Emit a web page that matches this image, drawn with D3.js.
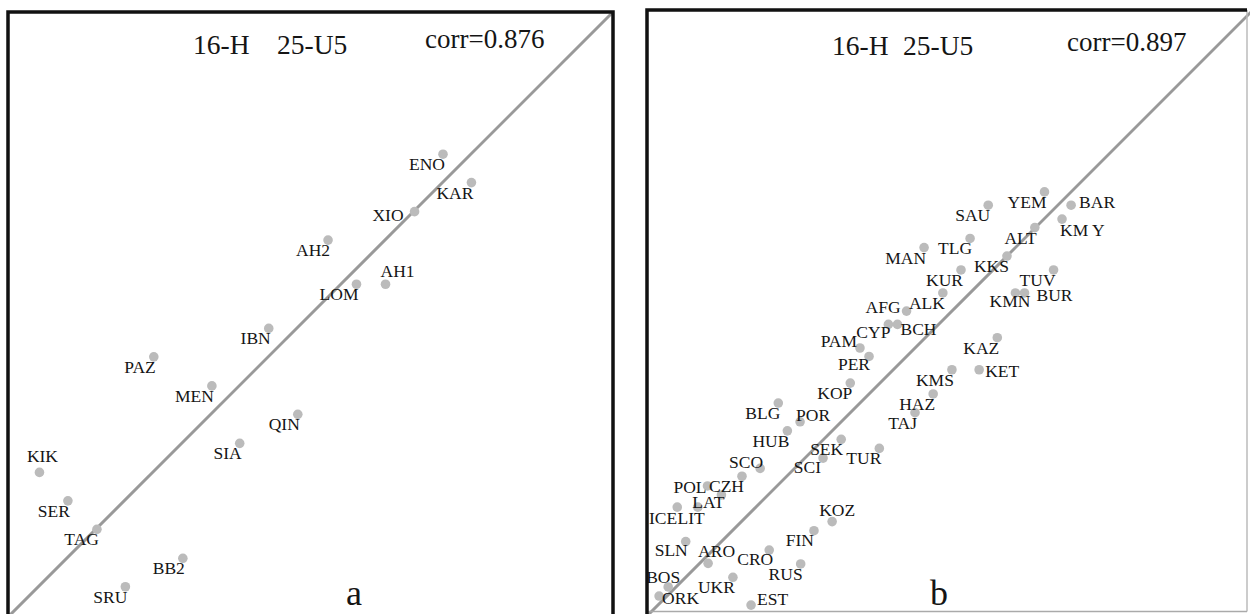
<!DOCTYPE html>
<html>
<head>
<meta charset="utf-8">
<script src="https://cdn.jsdelivr.net/npm/d3@7"></script>
<style>
  html, body { margin: 0; padding: 0; background: #fff; }
  svg text { font-family: "Liberation Serif", "Times New Roman", "DejaVu Serif", serif; fill: #151515; }
</style>
</head>
<body>
<div id="chart"></div>
<script>
// values (both axes 0..100, diagonal y = x)
const namesA = ["ENO", "KAR", "XIO", "AH2", "LOM", "AH1", "IBN", "PAZ", "MEN", "QIN",
  "SIA", "KIK", "SER", "TAG", "BB2", "SRU"];
const xA = [71.9, 76.6, 67.2, 52.9, 57.6, 62.4, 43.1, 24.1, 33.7, 47.9,
  38.3, 5.2, 9.9, 14.7, 28.9, 19.4];
const yA = [76.5, 71.8, 67.0, 62.3, 55.0, 55.0, 47.7, 43.0, 38.2, 33.5,
  28.7, 23.9, 19.2, 14.5, 9.7, 5.0];

const namesB = ["SAU", "YEM", "BAR", "KM Y", "ALT", "MAN", "TLG", "KKS", "KUR", "TUV",
  "KMN", "BUR", "ALK", "AFG", "CYP", "BCH", "PAM", "PER", "KAZ", "KET",
  "KMS", "KOP", "HAZ", "TAJ", "BLG", "POR", "HUB", "SEK", "SCI", "TUR",
  "SCO", "CZH", "POL", "LAT", "ICE", "LIT", "SLN", "ARO", "CRO", "RUS",
  "FIN", "KOZ", "BOS", "ORK", "UKR", "EST"];
const xB = [56.4, 65.7, 70.1, 68.6, 64.1, 45.8, 53.4, 59.5, 51.9, 67.2,
  60.9, 62.4, 48.9, 42.9, 39.9, 41.4, 35.2, 36.7, 57.9, 54.9,
  50.4, 33.6, 47.3, 44.3, 21.7, 25.3, 23.2, 32.1, 29.1, 38.4,
  18.7, 15.7, 10.0, 12.3, 5.0, 8.4, 6.4, 10.1, 20.2, 25.4,
  27.6, 30.6, 3.5, 2.0, 14.2, 17.2];
const yB = [67.9, 70.1, 67.9, 65.6, 64.2, 60.9, 62.4, 59.5, 57.2, 57.2,
  53.4, 53.4, 53.4, 50.4, 48.2, 48.2, 44.3, 42.9, 46.0, 40.7,
  40.7, 38.5, 36.7, 33.6, 35.2, 32.1, 30.6, 29.2, 26.1, 27.7,
  24.4, 23.1, 21.5, 20.0, 18.0, 18.0, 12.3, 8.7, 10.9, 8.6,
  14.1, 15.6, 4.8, 3.3, 6.4, 1.8];

const titleParts = ["16-H", "25-U5"];
const corrValues = [0.876, 0.897];
const panelLetters = ["a", "b"];

// label placement: [text-anchor, dx, dy] relative to the dot
const defaultPlace = ["end", 2, 16];
const placeA = {
  XIO: ["end", -11, 9],
  AH1: ["start", -5, -7],
  KIK: ["middle", 3, -10]
};
const placeB = {
  BAR: ["start", 8, 3],
  "KM Y": ["start", -2, 17],
  KMN: ["end", 15, 14],
  BUR: ["start", 12, 8],
  AFG: ["end", -6, 2],
  CYP: ["end", 2, 14],
  BCH: ["start", 3, 11],
  PAM: ["end", -3, -1],
  PER: ["end", 1, 14],
  KET: ["start", 6, 7],
  POR: ["start", -4, -1],
  SCO: ["end", 3, 0],
  POL: ["end", -1, 7],
  LAT: ["end", 3, 13],
  ICE: ["end", 0, 17],
  LIT: ["end", 7, 17],
  SLN: ["end", 2, 14],
  ARO: ["start", -10, -6],
  CRO: ["end", 4, 15],
  FIN: ["end", 0, 15],
  KOZ: ["middle", 5, -6],
  BOS: ["end", 12, -4],
  ORK: ["start", 3, 8],
  EST: ["start", 6, 0],
  SCI: ["end", -2, 15]
};

const width = 1250;
const height = 614;
const serif = "'Liberation Serif', 'Times New Roman', 'DejaVu Serif', serif";

const svg = d3.select("#chart")
  .append("svg")
  .attr("width", width)
  .attr("height", height)
  .attr("font-family", serif);

const panels = [
  { names: namesA, xs: xA, ys: yA, place: placeA,
    xr: [8, 613], yr: [617, 12],
    title: [193, 277, 54], corr: [425, 48], letter: [346, 605] },
  { names: namesB, xs: xB, ys: yB, place: placeB,
    xr: [647, 1252], yr: [616, 11],
    title: [832, 903, 55], corr: [1067, 51], letter: [930, 605] }
];

panels.forEach((p, i) => {
  const x = d3.scaleLinear().domain([0, 100]).range(p.xr);
  const y = d3.scaleLinear().domain([0, 100]).range(p.yr);
  const g = svg.append("g");

  const data = p.names.map((n, k) => ({ name: n, x: p.xs[k], y: p.ys[k] }));

  // diagonal
  g.append("line")
    .attr("x1", x(0)).attr("y1", y(0))
    .attr("x2", x(100)).attr("y2", y(100))
    .attr("stroke", "#999")
    .attr("stroke-width", 3);

  g.selectAll("circle")
    .data(data)
    .join("circle")
    .attr("cx", (d) => x(d.x))
    .attr("cy", (d) => y(d.y))
    .attr("r", 4.8)
    .attr("fill", "#bbb");

  g.selectAll("text.lab")
    .data(data)
    .join("text")
    .attr("class", "lab")
    .attr("x", (d) => x(d.x) + (p.place[d.name] || defaultPlace)[1])
    .attr("y", (d) => y(d.y) + (p.place[d.name] || defaultPlace)[2])
    .attr("text-anchor", (d) => (p.place[d.name] || defaultPlace)[0])
    .attr("font-family", serif)
    .style("font-size", "17.5px")
    .style("white-space", "pre")
    .text((d) => d.name);

  // headings
  g.append("text")
    .attr("x", p.title[0]).attr("y", p.title[2])
    .attr("font-family", serif)
    .style("font-size", "27.5px")
    .text(titleParts[0]);
  g.append("text")
    .attr("x", p.title[1]).attr("y", p.title[2])
    .attr("font-family", serif)
    .style("font-size", "27.5px")
    .text(titleParts[1]);
  g.append("text")
    .attr("x", p.corr[0]).attr("y", p.corr[1])
    .attr("font-family", serif)
    .style("font-size", "27px")
    .text(`corr=${corrValues[i]}`);
  g.append("text")
    .attr("x", p.letter[0]).attr("y", p.letter[1])
    .attr("font-family", serif)
    .style("font-size", "36px")
    .text(panelLetters[i]);
});

// frames
svg.append("rect")
  .attr("x", 8).attr("y", 12)
  .attr("width", 605).attr("height", 605)
  .attr("fill", "none")
  .attr("stroke", "#111")
  .attr("stroke-width", 3.5);

svg.append("line")
  .attr("x1", 1247).attr("y1", 10).attr("x2", 1247).attr("y2", 611.5)
  .attr("stroke", "#bbb").attr("stroke-width", 1.5);
svg.append("line")
  .attr("x1", 647).attr("y1", 611.5).attr("x2", 1247).attr("y2", 611.5)
  .attr("stroke", "#aaa").attr("stroke-width", 1.5);
svg.append("path")
  .attr("d", "M647,614 L647,10 L1247,10")
  .attr("fill", "none")
  .attr("stroke", "#111")
  .attr("stroke-width", 3.5);
</script>
</body>
</html>
